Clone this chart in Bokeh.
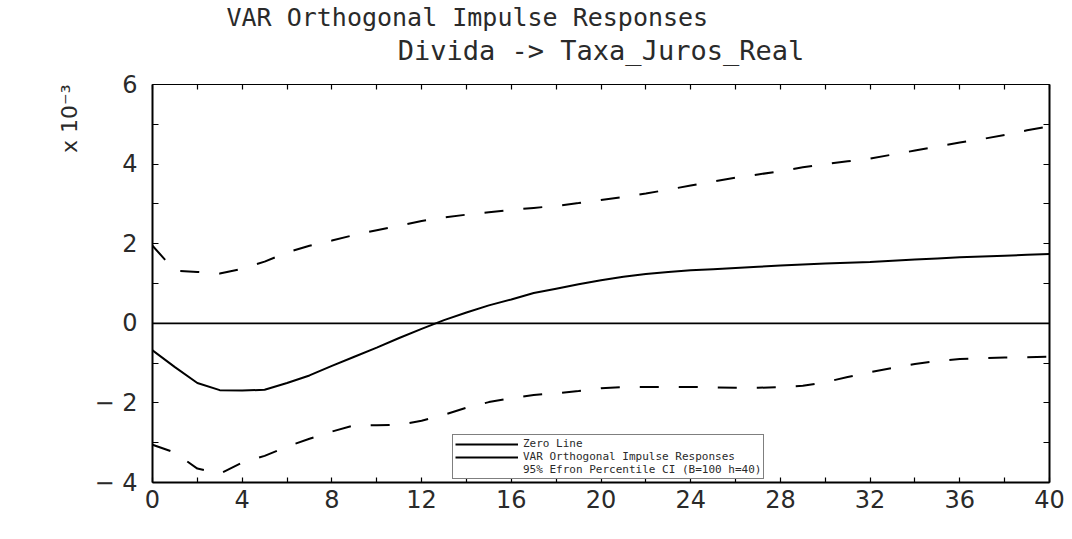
from bokeh.plotting import figure
from bokeh.models import (LinearAxis, FixedTicker, Range1d, Title, Legend,
                          LegendItem)
from bokeh.embed import file_html
from bokeh.resources import INLINE

# ---- data (values in units of 10^-3) ----
horizon = list(range(41))
irf = [-0.68, -1.10, -1.50, -1.68, -1.69, -1.67, -1.50, -1.31, -1.07, -0.84,
       -0.61, -0.37, -0.14, 0.08, 0.27, 0.45, 0.60, 0.76, 0.87, 0.98,
       1.08, 1.17, 1.24, 1.29, 1.33, 1.36, 1.39, 1.42, 1.45, 1.48,
       1.50, 1.52, 1.54, 1.57, 1.60, 1.63, 1.66, 1.68, 1.70, 1.72, 1.74]
ci_upper = [1.95, 1.32, 1.29, 1.25, 1.37, 1.55, 1.78, 1.95, 2.08, 2.22,
            2.34, 2.45, 2.57, 2.66, 2.73, 2.79, 2.85, 2.90, 2.95, 3.02,
            3.10, 3.17, 3.26, 3.36, 3.46, 3.56, 3.66, 3.74, 3.82, 3.92,
            4.00, 4.07, 4.14, 4.24, 4.34, 4.44, 4.54, 4.63, 4.73, 4.85, 4.95]
ci_lower = [-3.05, -3.25, -3.65, -3.78, -3.50, -3.33, -3.10, -2.90, -2.72, -2.56,
            -2.56, -2.55, -2.45, -2.30, -2.12, -1.98, -1.88, -1.80, -1.76, -1.70,
            -1.63, -1.60, -1.60, -1.60, -1.60, -1.61, -1.62, -1.62, -1.60, -1.57,
            -1.48, -1.35, -1.23, -1.12, -1.02, -0.95, -0.90, -0.88, -0.86, -0.85, -0.84]
zero_line = [0.0] * len(horizon)

x_ticks = [0, 4, 8, 12, 16, 20, 24, 28, 32, 36, 40]
x_minor = [2, 6, 10, 14, 18, 22, 26, 30, 34, 38]
x_all = sorted(x_ticks + x_minor)
y_ticks = [-4, -2, 0, 2, 4, 6]
y_minor = [-3, -1, 1, 3, 5]
y_all = sorted(y_ticks + y_minor)
y_tick_labels = {-4: "\u2212 4", -2: "\u2212 2", 0: "0", 2: "2", 4: "4", 6: "6"}

title_1 = "VAR Orthogonal Impulse Responses"
title_2 = "Divida -> Taxa_Juros_Real"
y_label = "x 10\u207b\u00b3"
legend_labels = ["Zero Line", "VAR Orthogonal Impulse Responses",
                 "95% Efron Percentile CI (B=100 h=40)"]

MONO = "DejaVu Sans Mono"
SANS = "DejaVu Sans"
TXT = "#2a2a2a"

p = figure(frame_width=897, frame_height=398,
           min_border_left=152, min_border_right=23,
           min_border_top=84, min_border_bottom=57,
           x_range=Range1d(0, 40), y_range=Range1d(-4, 6),
           output_backend="svg", toolbar_location=None,
           x_axis_location=None, y_axis_location=None)
p.outline_line_color = None
p.grid.visible = False
p.background_fill_color = "white"
p.border_fill_color = "white"


def make_axis(ticks, minor, width, tick_len, overrides=None, size="24px", standoff=10):
    ax = LinearAxis(ticker=FixedTicker(ticks=ticks, minor_ticks=minor))
    ax.axis_line_width = width
    ax.axis_line_color = "black"
    ax.major_tick_in = tick_len
    ax.major_tick_out = 0
    ax.minor_tick_in = tick_len
    ax.minor_tick_out = 0
    ax.major_tick_line_width = 1.2
    ax.minor_tick_line_width = 1.2
    ax.major_label_text_font = SANS
    ax.major_label_text_font_size = size
    ax.major_label_text_color = TXT
    ax.major_label_standoff = standoff
    if overrides:
        ax.major_label_overrides = overrides
    return ax


bottom = make_axis(x_ticks, x_minor, 2, 5, standoff=7)
left = make_axis(y_ticks, y_minor, 2, 6, overrides=y_tick_labels, standoff=15)
# frame-side axes carry only (unlabelled) tick marks
top = make_axis([], x_all, 1, 5, standoff=0)
right = make_axis([], y_all, 2, 6, standoff=0)
# second title line is carried by the top axis label
top.axis_label = title_2
top.axis_label_text_font = MONO
top.axis_label_text_font_size = "27px"
top.axis_label_text_font_style = "normal"
top.axis_label_text_color = TXT
top.axis_label_standoff = 19
p.add_layout(bottom, "below")
p.add_layout(left, "left")
p.add_layout(right, "right")
p.add_layout(top, "above")

p.add_layout(Title(text=title_1, text_font=MONO, text_font_size="25px",
                   text_font_style="normal", text_color=TXT,
                   align="left", offset=74, standoff=0), "above")
p.add_layout(Title(text=y_label, text_font=SANS, text_font_size="22px",
                   text_font_style="normal", text_color=TXT,
                   align="right", offset=0, standoff=19), "left")

r_zero = p.line(horizon, zero_line, line_color="black", line_width=1.8)
r_irf = p.line(horizon, irf, line_color="black", line_width=2)
p.line(horizon, ci_upper, line_color="black", line_width=2, line_dash="19 20")
p.line(horizon, ci_lower, line_color="black", line_width=2, line_dash="19 20")
# legend key for the CI (dash + dot, as in the reference key)
r_ci_key = p.line([], [], line_color="black", line_width=2, line_dash="22 24 2 40")

# legend box in the empty lower strip of the plot area (kept fully visible)
legend = Legend(items=[LegendItem(label=legend_labels[0], renderers=[r_zero]),
                       LegendItem(label=legend_labels[1], renderers=[r_irf]),
                       LegendItem(label=legend_labels[2], renderers=[r_ci_key])],
                location=(300, 3), orientation="vertical",
                label_text_font=MONO, label_text_font_size="11px",
                label_text_color=TXT,
                glyph_width=63, glyph_height=10, label_height=10,
                label_standoff=5, spacing=0, padding=2, margin=0,
                border_line_color="black", border_line_width=1,
                background_fill_color="white", background_fill_alpha=1)
p.add_layout(legend)

open("out.html", "w").write(file_html(p, INLINE))
